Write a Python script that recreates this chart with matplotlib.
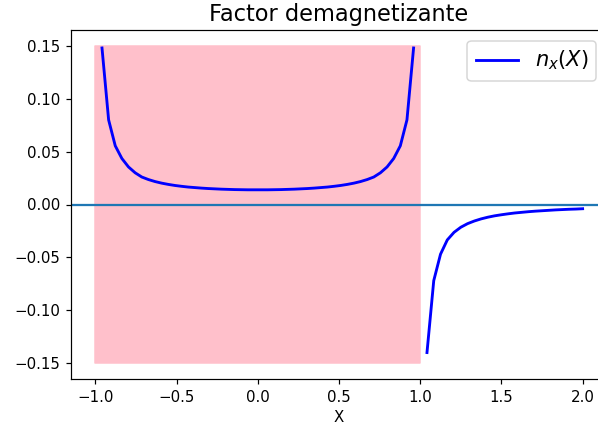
import matplotlib
matplotlib.use('Agg')
import matplotlib.pyplot as plt
import numpy as np

# sampling grid (inside strip and outside)
x_in = np.linspace(-1, 1, 50)[1:-1]
x_out = np.linspace(1, 2, 25)[1:]

# n_x, left half inside |X|<1 (mirrored for the right half)
half_in = [0.1480, 0.0800, 0.0555, 0.0435, 0.0355, 0.0300, 0.0260, 0.0236,
           0.0217, 0.0202, 0.0190, 0.0180, 0.0172, 0.0165, 0.0160, 0.0155,
           0.0151, 0.0148, 0.0145, 0.0143, 0.0141, 0.0140, 0.0139, 0.0139]
n_in = half_in + half_in[::-1]
n_out = [-0.1400, -0.0720, -0.0470, -0.0335, -0.0263, -0.0215, -0.0181, -0.0156,
         -0.0136, -0.0120, -0.0107, -0.0097, -0.0088, -0.0080, -0.0074, -0.0068,
         -0.0063, -0.0059, -0.0055, -0.0051, -0.0048, -0.0045, -0.0043, -0.0040]

strip_x = [-1, 1]
strip_lo, strip_hi = -0.15, 0.15

dpi = 108
fig = plt.figure(figsize=(598/dpi, 435/dpi), dpi=dpi)
ax = fig.add_axes([71/598, 56/435, 536/598, 349/435])
ax.fill_between(strip_x, strip_lo, strip_hi, color='pink')
ax.plot(x_in, n_in, color='blue', lw=1.9, label=r'$n_x(X)$')
ax.plot(x_out, n_out, color='blue', lw=1.9)
ax.axhline(0)
ax.set_title('Factor demagnetizante', fontsize=15)
ax.set_xlabel('X')
ax.legend(loc='upper right', fontsize=14)
fig.savefig('out.png', dpi=dpi)
